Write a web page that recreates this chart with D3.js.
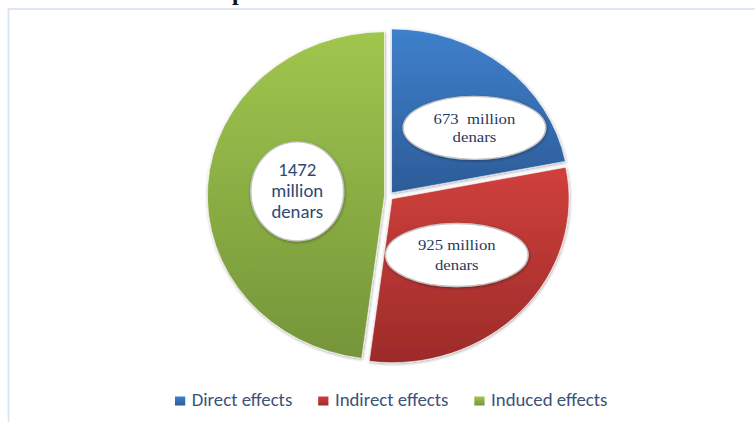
<!DOCTYPE html>
<html>
<head>
<meta charset="utf-8">
<script src="https://cdn.jsdelivr.net/npm/d3@7"></script>
<style>
  body { margin: 0; background: #fff; }
  svg { display: block; }
</style>
</head>
<body>
<div id="chart"></div>
<script>
// data
const categories = ["Direct effects", "Indirect effects", "Induced effects"];
const values = [673, 925, 1472];
const labelLines = [
  ["673  million", "denars"],
  ["925 million", "denars"],
  ["1472", "million", "denars"]
];

const colors = [
  { top: "#3f80cc", bottom: "#2c5c98" },
  { top: "#d0403c", bottom: "#9c2b29" },
  { top: "#a0c64e", bottom: "#759539" }
];

const width = 755, height = 422;
const stretch = 1.08; // source picture is a bit wider than tall
const cx = 360, cy = 196, radius = 164, explode = 4;

const svg = d3.select("#chart").append("svg")
  .attr("width", width)
  .attr("height", height);

const defs = svg.append("defs");

colors.forEach((c, i) => {
  const g = defs.append("linearGradient")
    .attr("id", "grad" + i)
    .attr("x1", 0).attr("y1", 0).attr("x2", 0).attr("y2", 1);
  g.append("stop").attr("offset", "0%").attr("stop-color", c.top);
  g.append("stop").attr("offset", "100%").attr("stop-color", c.bottom);
});

const shadow = defs.append("filter").attr("id", "shadow")
  .attr("x", "-20%").attr("y", "-20%").attr("width", "140%").attr("height", "140%");
shadow.append("feDropShadow")
  .attr("dx", 0.5).attr("dy", 1)
  .attr("stdDeviation", 1.6)
  .attr("flood-color", "#000")
  .attr("flood-opacity", 0.35);

// frame
svg.append("rect")
  .attr("x", 8.5).attr("y", 9)
  .attr("width", 900).attr("height", 600)
  .attr("fill", "none")
  .attr("stroke", "#d6e2f2")
  .attr("stroke-width", 1.6);

// cut off title above the frame
svg.append("text")
  .attr("x", 232).attr("y", 0)
  .attr("font-family", "'Liberation Serif', 'Times New Roman', serif")
  .attr("font-weight", "bold")
  .attr("font-size", 24)
  .attr("fill", "#111")
  .text("p");

const root = svg.append("g")
  .attr("transform", `scale(${stretch},1)`);

const pie = d3.pie().sort(null).value(d => d);
const arcs = pie(values);

const arc = d3.arc().innerRadius(0).outerRadius(radius);
const labelArc = d3.arc().innerRadius(83).outerRadius(83);

const offset = d => {
  const a = (d.startAngle + d.endAngle) / 2;
  return [Math.sin(a) * explode, -Math.cos(a) * explode];
};

const pieG = root.append("g")
  .attr("transform", `translate(${cx},${cy})`);

pieG.selectAll("path")
  .data(arcs)
  .join("path")
  .attr("transform", d => `translate(${offset(d)})`)
  .attr("d", arc)
  .attr("fill", (d, i) => `url(#grad${i})`)
  .attr("stroke", "#fff")
  .attr("stroke-width", 0.6)
  .attr("filter", "url(#shadow)");

// data labels in white bubbles
const bubble = [
  { rx: 66, ry: 31.5, font: "serif", size: 15.5, lh: 18, nudge: [24, -1] },
  { rx: 66, ry: 31.5, font: "serif", size: 15.5, lh: 20, nudge: [-0.5, -0.5] },
  { rx: 43, ry: 49.5, font: "sans", size: 17.4, lh: 21, nudge: [2, 1] }
];

const labels = pieG.selectAll("g.label")
  .data(arcs)
  .join("g")
  .attr("class", "label")
  .attr("transform", (d, i) => {
    const c = labelArc.centroid(d);
    const o = offset(d);
    return `translate(${c[0] + o[0] + bubble[i].nudge[0]},${c[1] + o[1] + bubble[i].nudge[1]})`;
  });

labels.append("ellipse")
  .attr("rx", (d, i) => bubble[i].rx)
  .attr("ry", (d, i) => bubble[i].ry)
  .attr("fill", "#fff")
  .attr("stroke", "#c4c4c4")
  .attr("stroke-width", 1.4)
  .attr("filter", "url(#shadow)");

labels.each(function(d, i) {
  const b = bubble[i];
  const lines = labelLines[i];
  const t = d3.select(this).append("text")
    .attr("text-anchor", "middle")
    .style("white-space", "pre")
    .attr("font-family", b.font === "serif"
      ? "'Liberation Serif', 'Times New Roman', serif"
      : "Carlito, 'Liberation Sans', Arial, sans-serif")
    .attr("font-size", b.size)
    .attr("fill", b.font === "serif" ? "#1f3a62" : "#2e4a74");
  lines.forEach((line, j) => {
    t.append("tspan")
      .attr("x", 0)
      .attr("y", (j - (lines.length - 1) / 2) * b.lh + 0.35 * b.size)
      .text(line);
  });
});

// legend
const legend = root.append("g")
  .attr("transform", "translate(162,406)");

let lx = 0;
categories.forEach((name, i) => {
  const item = legend.append("g").attr("transform", `translate(${lx},0)`);
  item.append("rect")
    .attr("x", 0).attr("y", -9.5)
    .attr("width", 9.5).attr("height", 9)
    .attr("fill", `url(#grad${i})`);
  const txt = item.append("text")
    .attr("x", 15.5).attr("y", 0)
    .attr("font-family", "Carlito, 'Liberation Sans', Arial, sans-serif")
    .attr("font-size", 17.4)
    .attr("fill", "#3d5277")
    .text(name);
  lx += 15.5 + txt.node().getComputedTextLength() + 24;
});
</script>
</body>
</html>
